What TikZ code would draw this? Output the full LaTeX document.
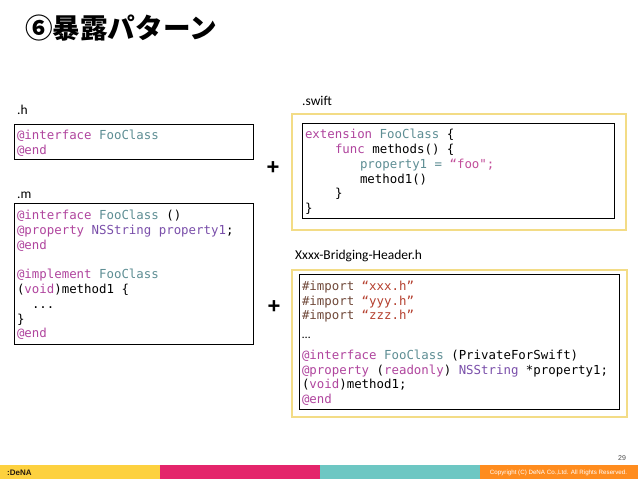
\documentclass[tikz,border=0pt]{standalone}
\usepackage{fontspec}
\setmainfont{Carlito}
\newfontfamily\codefont{DejaVu Sans Mono}
\newfontfamily\titlefont{Noto Sans CJK JP}
\newfontfamily\arialfont{Liberation Sans}
\definecolor{kw}{HTML}{B0459E}
\definecolor{cls}{HTML}{5E8E94}
\definecolor{prp}{HTML}{7A4FAA}
\definecolor{imp}{HTML}{70493A}
\definecolor{str}{HTML}{B5402F}
\definecolor{sstr}{HTML}{C24E9A}
\definecolor{fyel}{HTML}{F3DC86}
\definecolor{bandY}{HTML}{FDD13F}
\definecolor{bandM}{HTML}{E4256B}
\definecolor{bandT}{HTML}{6DC7C3}
\definecolor{bandO}{HTML}{FF8C1E}
\begin{document}
\begin{tikzpicture}[x=1pt,y=-1pt,
  code/.style={font=\codefont\fontsize{12.4}{14.8}\selectfont, anchor=base west, inner sep=0pt, outer sep=0pt},
  lbl/.style={font=\fontsize{13.5}{16}\selectfont, anchor=base west, inner sep=0pt},
  blackbox/.style={draw=black, line width=1pt, anchor=north west, inner sep=0pt},
  yelbox/.style={draw=fyel, line width=1.6pt, anchor=north west, inner sep=0pt},
  plussign/.style={font=\arialfont\bfseries\fontsize{22}{24}\selectfont, inner sep=0pt},
  band/.style={anchor=north west, inner sep=0pt, minimum height=14pt, minimum width=160pt}]
\fill[white] (0,0) rectangle (638,479);
\useasboundingbox (0,0) rectangle (638,479);

% title
\node[anchor=base west, inner sep=0pt, font=\titlefont\bfseries\fontsize{27.6}{30}\selectfont] (title) at (25,38.5) {⑥暴露パターン};

% labels
\node[lbl] (lh) at (17,114) {.h};
\node[lbl] (lm) at (17,198) {.m};
\node[lbl] (ls) at (302,105) {.swift};
\node[lbl] (lb) at (295,259) {Xxxx-Bridging-Header.h};

% boxes
\node[blackbox, minimum width=239pt, minimum height=35pt] (hbox) at (14,124) {};
\node[blackbox, minimum width=239pt, minimum height=141pt] (mbox) at (14,203) {};
\node[yelbox, minimum width=334pt, minimum height=116pt] (souter) at (291,113) {};
\node[blackbox, minimum width=312pt, minimum height=95pt] (sinner) at (302,123) {};
\node[yelbox, minimum width=335pt, minimum height=147pt] (bouter) at (291,269) {};
\node[blackbox, minimum width=320pt, minimum height=135pt] (binner) at (299,274) {};

% plus signs
\node[plussign] (plus1) at (273,168.5) {+};
\node[plussign] (plus2) at (274,307.5) {+};

% .h code
\node[code] (h1) at (17,139) {\textcolor{kw}{@interface} \textcolor{cls}{FooClass}};
\node[code] (h2) at (17,154) {\textcolor{kw}{@end}};

% .m code
\node[code] (m1) at (17,219) {\textcolor{kw}{@interface} \textcolor{cls}{FooClass} ()};
\node[code] (m2) at (17,234) {\textcolor{kw}{@property} \textcolor{prp}{NSString property1};};
\node[code] (m3) at (17,249) {\textcolor{kw}{@end}};
\node[code] (m4) at (17,278) {\textcolor{kw}{@implement} \textcolor{cls}{FooClass}};
\node[code] (m5) at (17,293) {(\textcolor{kw}{void})method1 \{};
\node[code] (m6) at (32,308) {...};
\node[code] (m7) at (17,323) {\}};
\node[code] (m8) at (17,337) {\textcolor{kw}{@end}};

% swift code
\node[code] (s1) at (305,138) {\textcolor{kw}{extension} \textcolor{cls}{FooClass} \{};
\node[code] (s2) at (335,153) {\textcolor{kw}{func} methods() \{};
\node[code] (s3) at (360,168) {\textcolor{cls}{property1 =} \textcolor{sstr}{“foo";}};
\node[code] (s4) at (360,183) {method1()};
\node[code] (s5) at (335,197) {\}};
\node[code] (s6) at (305,212) {\}};

% bridging header code
\node[code] (b1) at (302,290) {\textcolor{imp}{\#import} \textcolor{str}{“xxx.h”}};
\node[code] (b2) at (302,305) {\textcolor{imp}{\#import} \textcolor{str}{“yyy.h”}};
\node[code] (b3) at (302,319) {\textcolor{imp}{\#import} \textcolor{str}{“zzz.h”}};
\node[anchor=base west, inner sep=0pt, font=\fontsize{12}{14}\selectfont] (b4) at (302,338) {…};
\node[code] (b5) at (302,359) {\textcolor{kw}{@interface} \textcolor{cls}{FooClass} (PrivateForSwift)};
\node[code] (b6) at (302,374) {\textcolor{kw}{@property} (\textcolor{kw}{readonly}) \textcolor{prp}{NSString} *property1;};
\node[code] (b7) at (302,388) {(\textcolor{kw}{void})method1;};
\node[code] (b8) at (302,403) {\textcolor{kw}{@end}};

% footer
\node[band, fill=bandY] (fy) at (0,465) {};
\node[band, fill=bandM] (fm) at (160,465) {};
\node[band, fill=bandT] (ft) at (320,465) {};
\node[band, fill=bandO, minimum width=158pt] (fo) at (480,465) {};
\node[anchor=west, inner sep=0pt, font=\arialfont\bfseries\fontsize{8}{9}\selectfont, text=black!80!brown] (logo) at (7,472.5) {:DeNA};
\node[inner sep=0pt, font=\arialfont\fontsize{6.2}{7}\selectfont, text=white] (copy) at (558.5,472.5) {Copyright (C) DeNA Co.,Ltd. All Rights Reserved.};
\node[inner sep=0pt, font=\arialfont\fontsize{7}{8}\selectfont, text=black!70] (pnum) at (622,458) {29};
\end{tikzpicture}
\end{document}
